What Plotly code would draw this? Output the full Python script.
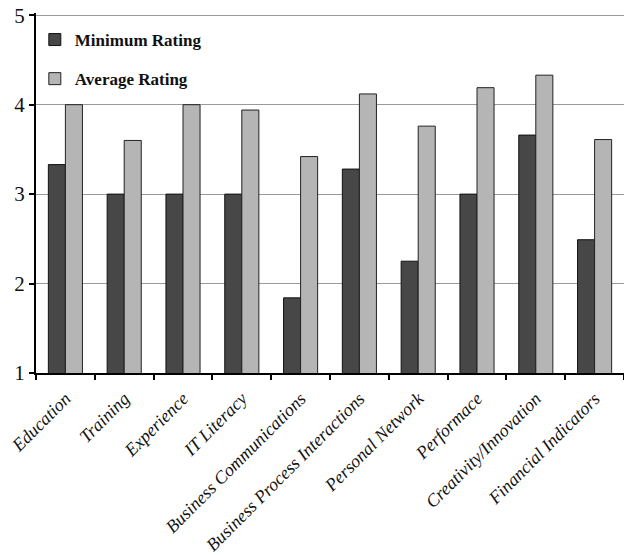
import plotly.graph_objects as go

categories = ["Education", "Training", "Experience", "IT Literacy",
              "Business Communications", "Business Process Interactions",
              "Personal Network", "Performace", "Creativity/Innovation",
              "Financial Indicators"]
minimum_rating = [3.33, 3.0, 3.0, 3.0, 1.84, 3.28, 2.25, 3.0, 3.66, 2.49]
average_rating = [4.0, 3.6, 4.0, 3.94, 3.42, 4.12, 3.76, 4.19, 4.33, 3.61]
y_ticks = [1, 2, 3, 4, 5]

serif = "Liberation Serif, Times New Roman, serif"

fig = go.Figure()
fig.add_trace(go.Bar(
    x=categories, y=minimum_rating, name="<b>Minimum Rating</b>",
    marker=dict(color="#474747", line=dict(color="#111111", width=1)),
    legendgroup="a",
))
fig.add_trace(go.Bar(
    x=categories, y=average_rating, name="<b>Average Rating</b>",
    marker=dict(color="#b5b5b5", line=dict(color="#222222", width=1)),
    legendgroup="b",
))

fig.update_layout(
    width=624, height=555,
    margin=dict(l=36, r=0, t=13, b=182),
    paper_bgcolor="white", plot_bgcolor="white",
    barmode="group", bargap=0.42, bargroupgap=0.0,
    font=dict(family=serif, color="#111111"),
    legend=dict(
        x=-0.002, y=0.975, xanchor="left", yanchor="top",
        bgcolor="rgba(0,0,0,0)", font=dict(size=17, family=serif),
        traceorder="grouped", tracegroupgap=14, itemwidth=30,
    ),
    xaxis=dict(
        type="category", tickangle=-45, tickson="boundaries",
        ticks="outside", ticklen=5, tickcolor="black", tickwidth=2,
        showline=True, linecolor="black", linewidth=2,
        tickfont=dict(size=18, family=serif, style="italic"),
        ticklabelstandoff=6, showgrid=False,
    ),
    yaxis=dict(
        range=[1, 5.025], tickvals=y_ticks, ticks="outside", ticklen=5,
        tickcolor="black", tickwidth=2,
        showline=True, linecolor="black", linewidth=2,
        showgrid=True, gridcolor="#9a9a9a", gridwidth=1,
        tickfont=dict(size=21, family=serif), zeroline=False,
    ),
)

fig.write_html("out.html")
